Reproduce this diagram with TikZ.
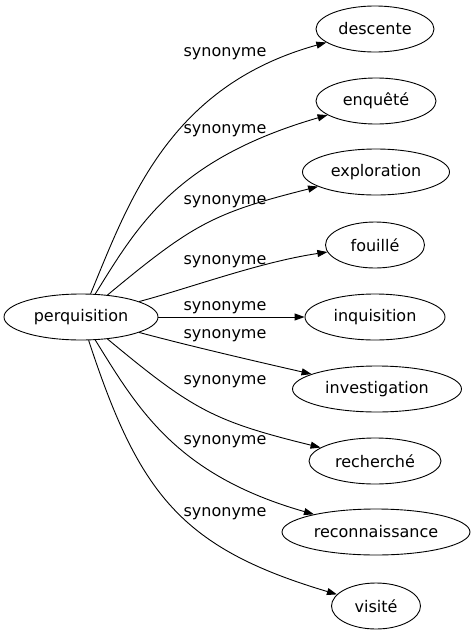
\documentclass[tikz,border=0pt]{standalone}
\usepackage{fontspec}
\setmainfont{DejaVu Sans}
\usetikzlibrary{shapes.geometric,arrows.meta}
\begin{document}
\begin{tikzpicture}[x=1pt,y=-1pt,
  every node/.style={font=\fontsize{16}{19}\selectfont},
  word/.style={ellipse,draw,line width=0.9pt,inner sep=0pt,minimum height=46pt},
  lab/.style={inner sep=0pt,anchor=base},
  edge/.style={line width=0.9pt,-{Triangle[length=10pt,width=7pt]}}]
\useasboundingbox (0,0) rectangle (473,635);
\node[word,minimum width=154pt] (p) at (81,317) {perquisition};
\node[word,minimum width=118pt] (d) at (375,29) {descente};
\node[word,minimum width=120pt] (e) at (376,101) {enquêté};
\node[word,minimum width=147pt] (x) at (376,172) {exploration};
\node[word,minimum width=99pt] (f) at (375,245) {fouillé};
\node[word,minimum width=140pt] (i) at (375,317) {inquisition};
\node[word,minimum width=169pt] (v) at (377,389) {investigation};
\node[word,minimum width=132pt] (r) at (375,461) {recherché};
\node[word,minimum width=188pt] (rc) at (376,532) {reconnaissance};
\node[word,minimum width=89pt] (vi) at (376,606) {visité};
\draw[edge] (p) .. controls (129,201) and (169,86) .. (d);
\draw[edge] (p) .. controls (138,225) and (176,159) .. (e);
\draw[edge] (p) .. controls (193,224) and (213,213) .. (x);
\draw[edge] (p) .. controls (190,288) and (260,262) .. (f);
\draw[edge] (p) -- (i);
\draw[edge] (p) .. controls (190,346) and (250,360) .. (v);
\draw[edge] (p) .. controls (193,410) and (213,421) .. (r);
\draw[edge] (p) .. controls (138,409) and (176,475) .. (rc);
\draw[edge] (p) .. controls (139,494) and (181,548) .. (vi);
\node[lab] (l1) at (225,56) {synonyme};
\node[lab] (l2) at (225,133) {synonyme};
\node[lab] (l3) at (225,204) {synonyme};
\node[lab] (l4) at (225,264) {synonyme};
\node[lab] (l5) at (225,310) {synonyme};
\node[lab] (l6) at (225,338) {synonyme};
\node[lab] (l7) at (225,384) {synonyme};
\node[lab] (l8) at (225,444) {synonyme};
\node[lab] (l9) at (225,516) {synonyme};
\end{tikzpicture}
\end{document}
